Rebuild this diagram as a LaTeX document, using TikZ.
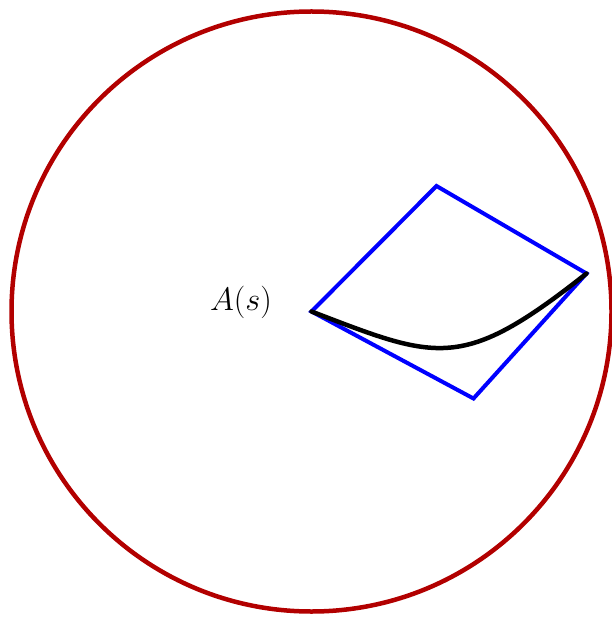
\RequirePackage{fix-cm}
\documentclass[tikz,border=0pt]{standalone}
\begin{document}
\begin{tikzpicture}[x=1pt,y=-1pt,
  ring/.style={draw=red!70!black,line width=4.5pt},
  quad/.style={draw=blue,line width=4pt,line join=miter},
  pathcurve/.style={draw=black,line width=4.5pt,line cap=round},
  lab/.style={font=\fontsize{32.5}{38}\selectfont,inner sep=0pt}]
\useasboundingbox (0,0) rectangle (611,617);
\coordinate (O) at (311.5,311.5);
\coordinate (P) at (311.5,311.5);
\coordinate (T) at (436.5,186);
\coordinate (R) at (586.5,273.5);
\coordinate (B) at (473.5,398.5);
\draw[ring] (O) circle[radius=300];
\draw[quad] (P) -- (T) -- (R) -- (B) -- cycle;
\draw[pathcurve] (P) .. controls (438,360) and (462,372) .. (R);
\node[lab] (A) at (241,302) {$A(s)$};
\end{tikzpicture}
\end{document}
